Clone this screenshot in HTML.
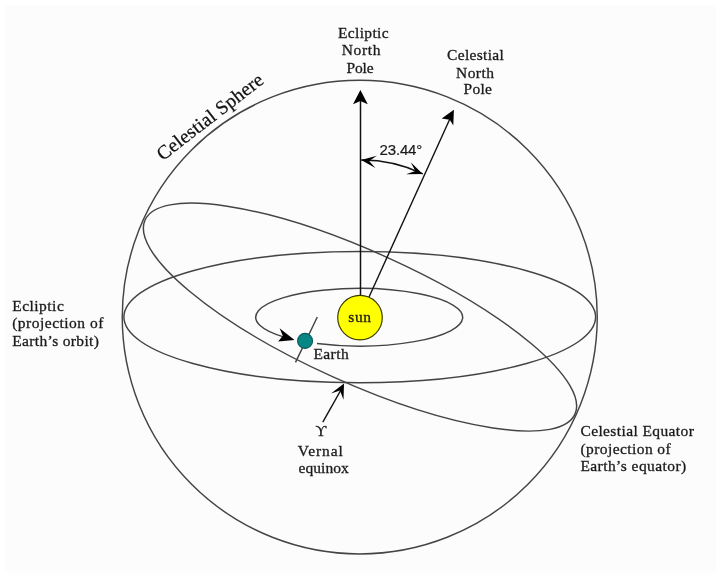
<!DOCTYPE html>
<html><head><meta charset="utf-8"><title>Celestial Sphere</title>
<style>
html,body{margin:0;padding:0;background:#fff;}
body{width:720px;height:582px;overflow:hidden;position:relative;font-family:"Liberation Serif",serif;}
.panel{position:absolute;left:5px;top:5px;width:711px;height:575px;background:linear-gradient(to bottom,#fcfcfc 0,#fcfcfc 565px,#fefefe 566px,#ffffff 575px);border-radius:4px;}
svg{position:absolute;left:0;top:0;filter:blur(0.35px);}
</style></head><body>
<div class="panel"></div>
<svg width="720" height="582" viewBox="0 0 720 582">
<g>
<ellipse cx="359.75" cy="317.1" rx="237.5" ry="236.8" fill="none" stroke="#444" stroke-width="1.45"/>
<ellipse cx="359.75" cy="317.1" rx="235.85" ry="65.6" fill="none" stroke="#444" stroke-width="1.45"/>
<ellipse cx="360" cy="317.1" rx="235.85" ry="65.6" fill="none" stroke="#444" stroke-width="1.45" transform="rotate(24.3 360 317.1)"/>
<path d="M317.00 343.55 A103.5 28.8 0 1 0 283.50 336.89" fill="none" stroke="#444" stroke-width="1.45"/>
<line x1="360.5" y1="300" x2="360.5" y2="100" stroke="#111" stroke-width="1.5"/>
<path d="M360.40 89.90 L367.80 104.30 L360.40 100.90 L353.00 104.30Z" fill="#000"/>
<line x1="368.23" y1="298.77" x2="450.40" y2="117.80" stroke="#111" stroke-width="1.4"/>
<path d="M453.9 109.7 L441.7 118.5 L449.8 119.8 L453.3 125.5Z" fill="#000"/>
<path d="M361.20 160.10 A142.0 142.0 0 0 1 422.80 173.90" fill="none" stroke="#111" stroke-width="1.5"/>
<path d="M361.20 160.10 L376.80 155.63 L369.15 161.00 L375.40 167.96Z" fill="#000"/>
<path d="M422.80 173.90 L406.03 174.17 L415.36 170.97 L410.72 162.26Z" fill="#000"/>
<circle cx="360" cy="317.6" r="22.3" fill="#ffff00" stroke="#3a3a00" stroke-width="1.2"/>
<line x1="317.3" y1="317" x2="295.5" y2="362.4" stroke="#444" stroke-width="1.45"/>
<circle cx="305.05" cy="340.9" r="7.5" fill="#088585" stroke="#0a5a5a" stroke-width="1.1"/>
<path d="M294.5 339.9 L279.6 328.2 L282.8 335.8 L278.2 341.4Z" fill="#000"/>
<line x1="322.8" y1="422.2" x2="342.6" y2="387" stroke="#111" stroke-width="1.4"/>
<path d="M344 383.4 L331 393.6 L340 390.4 L343.5 399.8Z" fill="#000"/>
</g>
<g>
<text x="338" y="37.8" font-family="'Liberation Serif', serif" font-size="15.5" fill="#1a1a1a" stroke="#1a1a1a" stroke-width="0.3" text-anchor="start" textLength="50.6" lengthAdjust="spacing">Ecliptic</text>
<text x="341.7" y="55.3" font-family="'Liberation Serif', serif" font-size="15.5" fill="#1a1a1a" stroke="#1a1a1a" stroke-width="0.3" text-anchor="start" textLength="38.9" lengthAdjust="spacing">North</text>
<text x="346.4" y="72.6" font-family="'Liberation Serif', serif" font-size="15.5" fill="#1a1a1a" stroke="#1a1a1a" stroke-width="0.3" text-anchor="start" textLength="27.2" lengthAdjust="spacing">Pole</text>
<text x="447" y="60" font-family="'Liberation Serif', serif" font-size="15.5" fill="#1a1a1a" stroke="#1a1a1a" stroke-width="0.3" text-anchor="start" textLength="56.9" lengthAdjust="spacing">Celestial</text>
<text x="456" y="77.5" font-family="'Liberation Serif', serif" font-size="15.5" fill="#1a1a1a" stroke="#1a1a1a" stroke-width="0.3" text-anchor="start" textLength="38" lengthAdjust="spacing">North</text>
<text x="463.6" y="94" font-family="'Liberation Serif', serif" font-size="15.5" fill="#1a1a1a" stroke="#1a1a1a" stroke-width="0.3" text-anchor="start" textLength="28.4" lengthAdjust="spacing">Pole</text>
<text x="12.2" y="310.7" font-family="'Liberation Serif', serif" font-size="15.5" fill="#1a1a1a" stroke="#1a1a1a" stroke-width="0.3" text-anchor="start" textLength="51.6" lengthAdjust="spacing">Ecliptic</text>
<text x="12.2" y="328.4" font-family="'Liberation Serif', serif" font-size="15.5" fill="#1a1a1a" stroke="#1a1a1a" stroke-width="0.3" text-anchor="start" textLength="91.1" lengthAdjust="spacing">(projection of</text>
<text x="12.2" y="345.6" font-family="'Liberation Serif', serif" font-size="15.5" fill="#1a1a1a" stroke="#1a1a1a" stroke-width="0.3" text-anchor="start" textLength="86.7" lengthAdjust="spacing">Earth’s orbit)</text>
<text x="580.4" y="436.2" font-family="'Liberation Serif', serif" font-size="15.5" fill="#1a1a1a" stroke="#1a1a1a" stroke-width="0.3" text-anchor="start" textLength="113.4" lengthAdjust="spacing">Celestial Equator</text>
<text x="580.4" y="454" font-family="'Liberation Serif', serif" font-size="15.5" fill="#1a1a1a" stroke="#1a1a1a" stroke-width="0.3" text-anchor="start" textLength="90.3" lengthAdjust="spacing">(projection of</text>
<text x="580.4" y="471.1" font-family="'Liberation Serif', serif" font-size="15.5" fill="#1a1a1a" stroke="#1a1a1a" stroke-width="0.3" text-anchor="start" textLength="105.8" lengthAdjust="spacing">Earth’s equator)</text>
<text x="297.8" y="455.6" font-family="'Liberation Serif', serif" font-size="15.5" fill="#1a1a1a" stroke="#1a1a1a" stroke-width="0.3" text-anchor="start" textLength="45" lengthAdjust="spacing">Vernal</text>
<text x="298.6" y="472.8" font-family="'Liberation Serif', serif" font-size="15.5" fill="#1a1a1a" stroke="#1a1a1a" stroke-width="0.3" text-anchor="start" textLength="50.2" lengthAdjust="spacing">equinox</text>
<text x="313.4" y="358.7" font-family="'Liberation Serif', serif" font-size="15.5" fill="#1a1a1a" stroke="#1a1a1a" stroke-width="0.3" text-anchor="start" textLength="35.3" lengthAdjust="spacing">Earth</text>
<text x="348.2" y="321.8" font-family="'Liberation Serif', serif" font-size="15.5" fill="#1a1a1a" stroke="#1a1a1a" stroke-width="0.3" text-anchor="start" textLength="22.9" lengthAdjust="spacing">sun</text>
<text x="315.6" y="436.4" font-family="'Liberation Serif', serif" font-size="15" fill="#1a1a1a" stroke="#1a1a1a" stroke-width="0.3" text-anchor="start">ϒ</text>
<text x="379.6" y="154.5" font-family="'Liberation Sans', sans-serif" font-size="15" fill="#1a1a1a" stroke="#1a1a1a" stroke-width="0.2" textLength="42.6" lengthAdjust="spacing">23.44°</text>
<text x="0" y="0" transform="translate(162.65 161.15) rotate(-37.6)" font-family="'Liberation Serif', serif" font-size="19.5" fill="#111" stroke="#111" stroke-width="0.25" textLength="129" lengthAdjust="spacing">Celestial Sphere</text>
</g>
</svg>
</body></html>
